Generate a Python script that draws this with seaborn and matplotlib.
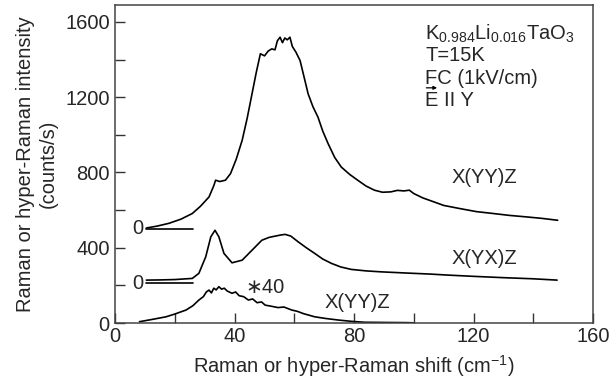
import numpy as np
import pandas as pd
import matplotlib
matplotlib.use("Agg")
import matplotlib.pyplot as plt
from matplotlib.patches import FancyArrowPatch
import seaborn as sns

# Top curve X(YY)Z (offset baseline 500)
yy_x = [10.4, 14, 18, 22, 25.8, 28.5, 31.4, 33.0, 33.6, 35.0, 36.9, 38.6, 40.5, 42.5, 44.2, 45.8,
        47.2, 48.6, 50.0, 51.2, 52.4, 53.5, 54.3, 55.2, 56.0, 56.8, 57.6, 58.5, 59.3, 60.5, 61.9,
        63.2, 64.6, 66.2, 67.9, 69.5, 71.3, 73.5, 75.7, 78.5, 81.2, 84.0, 86.8, 89.5, 92.3, 94.5,
        96.7, 98.5, 100, 103, 106.7, 110, 115.5, 121, 126.6, 132, 137.7, 143, 148.2]
yy_y = [505, 515, 530, 552, 582, 620, 670, 730, 759, 752, 759, 794, 870, 971, 1090, 1218,
        1330, 1431, 1420, 1445, 1457, 1452, 1500, 1519, 1490, 1515, 1505, 1519, 1470, 1440, 1395,
        1310, 1218, 1150, 1094, 1020, 953, 880, 829, 790, 759, 728, 706, 695, 697, 705,
        702, 706, 688, 665, 644, 625, 608, 592, 582, 572, 564, 556, 546]

# Middle curve X(YX)Z
yx_x = [10.4, 15, 20, 25.8, 28, 30.3, 32, 33.4, 34.7, 36.4, 39.1, 42.5, 45.8, 49.1, 51.5, 53.6,
        55.5, 56.9, 58.8, 61.3, 64, 66.8, 69.5, 72.4, 75.5, 79, 84, 89, 97, 105.6, 111, 120,
        130, 140, 148]
yx_y = [228, 229, 231, 237, 264, 352, 458, 493, 458, 370, 320, 334, 387, 440, 455, 462,
        468, 471, 462, 431, 400, 370, 340, 317, 298, 285, 277, 272, 266, 260, 255, 248,
        241, 235, 228]

# Bottom curve X(YY)Z x40
b_x = [8.1, 12, 17, 20, 23.7, 26, 28, 29.5, 30.5, 31.4, 32.2, 33, 33.8, 34.7, 35.6, 36.5, 37.5,
       39.1, 40.3, 41.5, 43, 44.6, 46, 47.5, 49, 50.2, 52, 54.5, 56.5, 59.1, 61, 63, 66.8,
       70.5, 74.6, 79, 83.4, 90, 97.8, 100]
b_y = [7, 18, 33, 48, 69, 92, 122, 140, 165, 175, 160, 185, 176, 193, 180, 185, 170,
       158, 165, 145, 140, 122, 128, 108, 112, 95, 90, 82, 85, 69, 62, 50, 33,
       24, 16, 9, 4, 3, 2, 1]

baselines = [500, 210]
x_ticks = [0, 40, 80, 120, 160]
y_ticks = [0, 400, 800, 1200, 1600]
curve_labels = ["X(YY)Z", "X(YX)Z", "X(YY)Z"]

sns.set_style("ticks")
plt.rcParams['font.family'] = ['Liberation Sans', 'DejaVu Sans']
plt.rcParams['mathtext.fontset'] = 'custom'
plt.rcParams['mathtext.rm'] = 'Liberation Sans'
plt.rcParams['mathtext.it'] = 'Liberation Sans'

FS = 14.5
fig = plt.figure(figsize=(6.10, 3.88), dpi=100)
ax = fig.add_axes([0.189, 0.1675, 0.783, 0.8195])

df = pd.concat([
    pd.DataFrame({"x": yy_x, "y": yy_y, "s": "top"}),
    pd.DataFrame({"x": yx_x, "y": yx_y, "s": "mid"}),
    pd.DataFrame({"x": b_x, "y": b_y, "s": "bot"}),
])
sns.lineplot(data=df, x="x", y="y", hue="s", palette=["black"] * 3, legend=False,
             ax=ax, linewidth=1.2, sort=False, estimator=None)

for b in baselines:
    ax.plot([10.4, 26], [b, b], color="black", linewidth=1.2)
    ax.text(9.3, b, "0", ha="right", va="center", fontsize=FS)

ax.text(123.6, 772, curve_labels[0], ha="center", va="center", fontsize=FS)
ax.text(123.6, 345, curve_labels[1], ha="center", va="center", fontsize=FS)
ax.text(81, 109, curve_labels[2], ha="center", va="center", fontsize=FS)
ax.text(50.3, 190, "∗40", ha="center", va="center", fontsize=FS)

tx = 103.8
ax.text(tx, 1508, r"K$_{0.984}$Li$_{0.016}$TaO$_3$", ha="left", va="baseline", fontsize=FS)
ax.text(tx, 1395, "T=15K", ha="left", va="baseline", fontsize=FS)
ax.text(tx, 1273, "FC (1kV/cm)", ha="left", va="baseline", fontsize=FS)
ax.text(tx, 1156, "E II Y", ha="left", va="baseline", fontsize=FS)
ax.add_patch(FancyArrowPatch((tx + 0.4, 1250), (tx + 4.0, 1250), arrowstyle="-|>",
                             mutation_scale=5, lw=0.9, color="black",
                             shrinkA=0, shrinkB=0))

ax.set_xlim(0, 160)
ax.set_ylim(0, 1690)
ax.set_xticks(x_ticks)
ax.set_yticks(y_ticks)
ax.set_xticks(np.arange(20, 160, 40), minor=True)
ax.set_yticks(np.arange(200, 1600, 400), minor=True)
ax.tick_params(which="both", direction="in", length=7, width=1, labelsize=FS, color="#333333")
ax.tick_params(axis="x", pad=3)
ax.tick_params(axis="y", pad=4)
for s in ax.spines.values():
    s.set_visible(True)
    s.set_color("#444444")
    s.set_linewidth(1.1)

ax.set_xlabel("Raman or hyper-Raman shift (cm$^{-1}$)", fontsize=FS, labelpad=5)
ax.set_ylabel("Raman or hyper-Raman intensity\n(counts/s)", fontsize=FS, labelpad=5,
              linespacing=1.25)

fig.savefig("out.png", dpi=100)
